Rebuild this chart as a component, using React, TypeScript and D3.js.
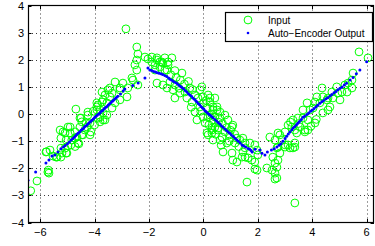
import React from "react";
import * as d3 from "d3";

const xTicks = [-6, -4, -2, 0, 2, 4, 6];
const yTicks = [-4, -3, -2, -1, 0, 1, 2, 3, 4];
const legendLabels = ["Input", "Auto\u2212Encoder Output"];

// Green circles: noisy input samples [x, y]
const inputPoints: [number, number][] = [
  [-6.35,-2.83],[-6.12,-2.47],[-5.7,-2.07],[-5.68,-2.18],[-5.72,-2.14],[-5.77,-1.39],[-5.64,-1.33],[-5.53,-1.55],[-5.38,-1.59],[-5.2,-1.44],
  [-5.09,-1.26],[-4.98,-1.18],[-5.02,-1.44],[-4.84,-0.96],[-4.98,-0.48],[-5.16,-0.66],[-4.9,-0.7],[-4.72,-0.66],[-4.65,-0.85],[-4.54,-0.48],
  [-4.47,-0.77],[-4.36,-0.59],[-4.17,-0.77],[-4.28,-0.48],[-4.72,-1.2],[-4.58,-1.1],[-4.17,-0.33],[-4.47,-0.29],[-3.8,-0.29],[-3.69,-0.22],
  [-4.69,0.18],[-4.54,-0.15],[-4.25,-0.04],[-3.92,0.26],[-3.8,-0.11],[-3.55,-0.04],[-3.69,0.52],[-3.44,0.63],[-3.51,0.89],[-3.25,1.18],
  [-3.07,0.89],[-2.96,1.14],[-3.07,0.52],[-2.85,3.14],[-3.25,0.41],[-3.36,0.22],[-3.8,0.15],
  [-4.25,0.07],[-3.88,0.33],[-4.9,-0.48],[-4.5,-0.15],[-4.32,-0.33],[-4.14,-0.66],[-4.43,-0.77],[-4.72,-0.89],[-5.05,-0.96],[-5.24,-0.89],
  [-5.27,-0.59],[-5.09,-0.7],[-4.87,-1.14],[-4.61,-1.07],[-5.24,-1.26],[-5.05,-1.44],[-5.79,-1.4],[-5.24,-1.59],[-5.42,-1.59],[-4.0,-0.4],[-4.05,0.1],
  [-2.45,2.47],[-2.41,2.21],[-2.45,1.99],[-2.52,1.81],[-2.45,1.62],[-2.15,2.1],[-2.04,2.03],[-1.9,1.92],[-1.71,1.99],[-1.6,1.92],
  [-1.49,1.88],[-1.3,1.92],[-1.34,1.62],[-1.78,1.62],[-1.34,0.96],[-2.59,1.25],[-2.63,1.33],[-2.41,1.07],[-3.07,0.96],[-2.78,0.96],
  [-2.81,0.63],[-3.44,0.96],[-3.36,0.77],[-3.62,0.7],[-3.73,0.81],[-3.73,0.44],[-3.55,0.41],[-3.92,0.41],[-3.92,0.15],[-3.69,0.04],
  [-3.88,-0.15],[-3.62,-0.22],
  [-1.9,2.1],[-1.71,2.07],[-1.53,1.92],[-1.42,2.07],[-1.16,2.07],[-1.3,1.81],[-1.78,1.81],[-1.6,1.73],[-1.42,1.62],[-0.79,1.51],
  [-1.71,1.14],[-1.49,1.07],[-1.23,1.18],[-1.05,1.07],[-1.12,0.89],[-1.05,0.59],[-0.86,0.77],[-0.68,0.81],[-0.5,0.96],[-0.13,0.89],
  [-0.06,1.0],[-0.31,0.7],[-0.61,0.59],[-0.42,0.44],[-0.2,0.59],[-0.02,0.63],[0.17,0.7],[0.24,0.44],[0.42,0.59],[0.5,0.26],
  [0.61,0.07],[0.35,0.15],[0.13,0.22],[-0.13,0.26],[-0.31,0.07],[-0.24,-0.22],[-0.02,-0.11],[0.24,-0.04],[0.06,-0.33],[0.35,-0.22],
  [0.42,-0.48],[0.31,-0.59],[0.53,-0.59],[0.68,-0.85],[0.17,-0.77],
  [-1.0,1.35],[-0.85,1.25],[-0.7,1.1],[-0.55,1.2],[-0.4,0.9],[-0.9,0.95],[-1.2,1.45],[-1.05,1.6],
  [0.24,0.59],[0.35,0.26],[0.5,0.15],[0.17,-0.11],[0.42,-0.11],[0.61,-0.15],[0.79,-0.04],[0.9,-0.22],[1.08,-0.41],[0.31,-0.52],
  [0.53,-0.52],[0.79,-0.66],[0.97,-0.77],[1.23,-0.89],[1.45,-0.89],[1.53,-1.07],[1.89,-1.14],[0.72,-1.4],[1.05,-1.44],[1.08,-1.7],
  [1.23,-1.77],[1.42,-1.59],[1.64,-1.62],[1.89,-1.77],[1.97,-2.07],[1.6,-2.51],[2.33,-1.99],[2.52,-2.07],[2.63,-1.81],[2.7,-2.36],
  [2.44,-0.85],[2.63,-0.96],[2.74,-0.7],[2.74,-1.22],
  [0.13,-0.7],[0.35,-0.96],[1.45,-1.4],[0.61,-0.96],[0.86,-1.07],[1.16,-1.07],[1.34,-0.96],[1.05,-0.48],[0.31,-0.7],
  [0.0,0.4],[-0.1,0.1],[0.1,0.5],[0.3,0.0],[0.55,-0.3],[0.7,-0.35],[0.85,-0.5],[1.0,-0.6],[1.15,-0.75],[0.95,-1.0],
  [1.3,-1.2],[0.45,-0.75],[0.65,-1.15],[0.2,-0.4],[-0.45,0.25],
  [1.89,-2.03],[2.63,-2.4],[3.36,-3.28],[2.81,-0.77],[3.0,-1.22],[2.81,-1.44],[2.55,-1.59],[3.0,-0.66],[3.25,-0.48],[3.43,-0.7],
  [3.29,-1.25],[3.36,-1.07],[3.11,-1.14],[3.73,-0.66],[3.84,-0.59],[4.1,-0.33],[1.53,-1.25],[1.71,-1.07],[1.53,-1.59],[1.78,-1.7],
  [2.0,-1.51],[1.97,-1.33],
  [4.9,1.0],[4.72,0.81],[4.94,0.77],[4.58,0.59],[4.39,0.63],[4.17,0.63],[4.28,0.41],[4.58,0.15],[4.39,0.04],[3.81,0.41],
  [3.66,0.15],[3.92,0.15],[4.03,0.22],[3.47,-0.15],[3.66,-0.15],[3.84,-0.22],[3.55,-0.48],[3.73,-0.59],[3.36,-0.59],[3.29,-0.22],
  [3.11,-0.41],[3.0,-1.14],[3.18,-1.25],[3.36,-1.22],[2.7,-1.25],[2.74,-1.7],[2.7,-1.96],[2.63,-2.18],[2.89,-0.96],[4.1,0.44],
  [4.36,0.96],
  [5.72,2.29],[6.05,2.07],[5.5,1.51],[5.46,1.25],[5.32,1.14],[5.2,1.07],[5.09,0.81],[5.28,0.81],[5.46,0.96],[4.76,0.59],
  [5.02,0.52],[4.54,0.52],[4.65,0.26],
  [3.2,-0.3],[3.5,-0.35],[3.95,-0.45],[4.15,-0.2],
];

// Blue dots: auto-encoder reconstruction [x, y]
const outputPoints: [number, number][] = [
  [-6.45,-2.44],[-6.17,-2.14],[-5.79,-1.81],[-5.68,-1.7],[-5.57,-1.55],[-5.46,-1.51],[-5.35,-1.4],[-5.24,-1.28],[-5.15,-1.22],[-5.08,-1.16],
  [-5.0,-1.1],[-4.93,-1.03],[-4.86,-0.96],[-4.8,-0.9],[-4.75,-0.86],[-4.7,-0.8],[-4.65,-0.75],[-4.6,-0.7],[-4.55,-0.66],[-4.5,-0.6],
  [-4.45,-0.56],[-4.4,-0.52],[-4.36,-0.46],[-4.3,-0.42],[-4.25,-0.37],[-4.2,-0.32],[-4.15,-0.28],[-4.1,-0.23],[-4.05,-0.18],[-4.0,-0.13],
  [-3.95,-0.08],[-3.9,-0.04],[-3.85,0.0],[-3.8,0.05],[-3.75,0.1],[-3.7,0.14],[-3.65,0.19],[-3.6,0.24],[-3.55,0.28],[-3.5,0.33],
  [-3.45,0.38],[-3.4,0.42],[-3.35,0.47],[-3.3,0.52],[-3.25,0.56],[-3.2,0.61],[-3.15,0.65],[-3.05,0.74],[-2.95,0.85],[-2.89,0.92],
  [-2.6,1.05],[-2.4,1.14],[-2.15,1.33],[-2.04,1.7],
  [-1.97,1.62],[-1.9,1.6],[-1.83,1.57],[-1.76,1.55],[-1.7,1.52],[-1.63,1.5],[-1.56,1.48],[-1.5,1.46],[-1.42,1.42],[-1.35,1.38],
  [-1.28,1.33],[-1.23,1.28],[-1.16,1.24],[-1.1,1.2],[-1.03,1.16],[-0.97,1.12],[-0.91,1.07],[-0.85,1.02],[-0.79,0.98],[-0.73,0.93],
  [-0.67,0.87],[-0.61,0.81],[-0.55,0.75],[-0.5,0.7],[-0.44,0.65],[-0.39,0.59],[-0.33,0.54],[-0.28,0.49],[-0.24,0.44],[-0.19,0.39],
  [-0.14,0.34],[-0.09,0.28],[-0.04,0.23],[0.01,0.18],[0.06,0.12],[0.1,0.08],[0.15,0.04],[0.2,-0.01],[0.25,-0.05],[0.3,-0.09],
  [0.35,-0.14],[0.42,-0.2],[0.48,-0.26],[0.54,-0.31],[0.6,-0.37],[0.66,-0.43],[0.72,-0.49],[0.79,-0.55],[0.85,-0.61],[0.91,-0.66],
  [0.97,-0.71],[1.03,-0.77],[1.1,-0.83],[1.16,-0.89],[1.22,-0.95],[1.28,-1.0],[1.35,-1.07],[1.42,-1.14],[1.48,-1.18],[1.55,-1.22],
  [1.64,-1.27],[1.7,-1.3],
  [1.75,-1.35],[1.79,-1.4],[1.9,-1.3],[2.08,-1.33],[2.15,-1.45],[2.26,-1.51],[2.35,-1.4],[2.5,-1.33],[2.6,-1.28],[2.7,-1.22],
  [2.78,-1.15],[2.85,-1.1],[2.92,-1.0],[3.0,-0.9],[3.06,-0.82],[3.12,-0.74],[3.18,-0.66],[3.25,-0.58],[3.3,-0.52],[3.36,-0.46],
  [3.42,-0.4],[3.47,-0.34],[3.53,-0.28],[3.6,-0.2],[3.66,-0.12],[3.72,-0.08],[3.8,-0.02],[3.87,0.04],[3.94,0.1],[4.0,0.15],
  [4.07,0.2],[4.14,0.27],[4.2,0.32],[4.28,0.4],[4.35,0.45],[4.42,0.5],[4.5,0.56],[4.57,0.6],[4.65,0.66],[4.72,0.72],
  [4.8,0.78],[4.87,0.83],[4.94,0.89],[5.02,0.95],[5.1,1.0],[5.18,1.07],[5.26,1.13],[5.39,1.25],[5.5,1.35],[5.62,1.48],
  [5.75,1.62],[6.0,1.93],
];

const W = 375;
const H = 246;
const left = 28, right = 374, top = 5.5, bottom = 222.5;

export default function App() {
  const x = d3.scaleLinear().domain([-6.45, 6.27]).range([left, right]);
  const y = d3.scaleLinear().domain([-4, 4]).range([bottom, top]);
  const font = "'Liberation Sans', Arial, Helvetica, sans-serif";
  const tickLen = 3.5;

  return (
    <svg
      width={W}
      height={H}
      style={{ position: "absolute", left: 0, top: 0, background: "#fff" }}
      fontFamily={font}
    >
      <rect x={0} y={0} width={W} height={H} fill="#fff" />
      <defs>
        <clipPath id="plotclip">
          <rect x={left} y={top} width={right - left} height={bottom - top} />
        </clipPath>
      </defs>
      {/* grid */}
      <g stroke="#3a3a3a" strokeWidth={1} strokeDasharray="1,3">
        {xTicks.map((t) => (
          <line key={"gx" + t} x1={Math.round(x(t)) + 0.5} x2={Math.round(x(t)) + 0.5} y1={top} y2={bottom} />
        ))}
        {yTicks.filter((t) => t > -4 && t < 4).map((t) => (
          <line key={"gy" + t} x1={left} x2={right} y1={Math.round(y(t)) + 0.5} y2={Math.round(y(t)) + 0.5} />
        ))}
      </g>
      {/* data */}
      <g clipPath="url(#plotclip)">
        {inputPoints.map((p, i) => (
          <circle key={"i" + i} cx={x(p[0])} cy={y(p[1])} r={3.9} fill="none" stroke="#00ff00" strokeWidth={1} />
        ))}
        {outputPoints.map((p, i) => (
          <circle key={"o" + i} cx={x(p[0])} cy={y(p[1])} r={1.5} fill="#0000ff" />
        ))}
      </g>
      {/* ticks */}
      <g stroke="#000" strokeWidth={1}>
        {xTicks.map((t) => {
          const px = Math.round(x(t)) + 0.5;
          return (
            <g key={"tx" + t}>
              <line x1={px} x2={px} y1={bottom} y2={bottom - tickLen} />
              <line x1={px} x2={px} y1={top} y2={top + tickLen} />
            </g>
          );
        })}
        {yTicks.map((t) => {
          const py = Math.round(y(t)) + 0.5;
          return (
            <g key={"ty" + t}>
              <line x1={left} x2={left + tickLen} y1={py} y2={py} />
              <line x1={right} x2={right - tickLen} y1={py} y2={py} />
            </g>
          );
        })}
      </g>
      {/* box */}
      <rect x={left + 0.5} y={top} width={right - left - 1} height={bottom - top} fill="none" stroke="#000" strokeWidth={1.2} />
      {/* tick labels */}
      <g fontSize={11} fill="#000">
        {xTicks.map((t) => (
          <text key={"lx" + t} x={x(t)} y={bottom + 13} textAnchor="middle">
            {t < 0 ? "\u2212" + Math.abs(t) : String(t)}
          </text>
        ))}
        {yTicks.map((t) => (
          <text key={"ly" + t} x={left - 4} y={y(t) + 4} textAnchor="end">
            {t < 0 ? "\u2212" + Math.abs(t) : String(t)}
          </text>
        ))}
      </g>
      {/* legend */}
      <g>
        <rect x={225.5} y={12.5} width={147} height={29} fill="#fff" stroke="#000" strokeWidth={1.2} />
        <circle cx={248} cy={20} r={3.9} fill="none" stroke="#00ff00" strokeWidth={1} />
        <circle cx={248} cy={33} r={1.3} fill="#0000ff" />
        <text x={268} y={23.5} fontSize={10} fill="#000">{legendLabels[0]}</text>
        <text x={268} y={36.5} fontSize={10} fill="#000">{legendLabels[1]}</text>
      </g>
    </svg>
  );
}
